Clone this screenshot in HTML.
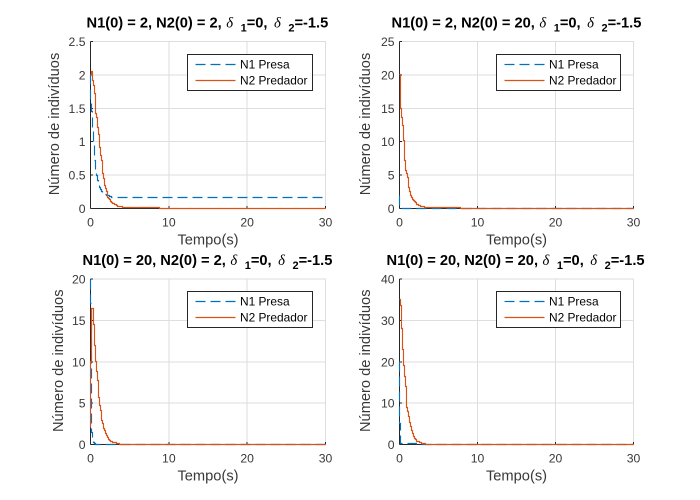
<!DOCTYPE html>
<html lang="pt">
<head>
<meta charset="utf-8">
<title>Presa e Predador</title>
<style>
html,body{margin:0;padding:0;background:#fff;width:700px;height:500px;overflow:hidden}
svg{display:block}
text{font-family:"Liberation Sans",sans-serif}
</style>
</head>
<body>
<svg id="figure" width="700" height="500" viewBox="0 0 700 500" xmlns="http://www.w3.org/2000/svg"></svg>
<script>
const xTicks = [0, 10, 20, 30];
const xMax = 30;

const panel1YTicks = [0, 0.5, 1, 1.5, 2, 2.5];
const panel1YLabels = ['0', '0.5', '1', '1.5', '2', '2.5'];
const panel1N1Time = [0, 0.04, 0.17, 0.3, 0.34, 0.5, 0.72, 1.15, 1.57, 2, 2.85, 30];
const panel1N1Values = [2, 1.62, 1.45, 1.22, 1, 0.72, 0.5, 0.31, 0.23, 0.2, 0.165, 0.165];
const panel1N2Time = [0, 0.1, 0.3, 0.5, 0.7, 0.94, 1.15, 1.36, 1.57, 1.8, 2, 2.2, 2.6, 3.06, 3.5, 4.4, 8.8, 8.8, 30];
const panel1N2Values = [2, 2.05, 1.92, 1.72, 1.42, 1.22, 0.92, 0.72, 0.52, 0.35, 0.25, 0.17, 0.1, 0.06, 0.035, 0.012, 0.01, 0, 0];

const panel2YTicks = [0, 5, 10, 15, 20, 25];
const panel2YLabels = ['0', '5', '10', '15', '20', '25'];
const panel2N1Time = [0, 0.02, 0.1, 0.3, 7.8, 30];
const panel2N1Values = [2, 0.5, 0.1, 0, 0, 0];
const panel2N2Time = [0, 0.08, 0.17, 0.34, 0.47, 0.64, 0.8, 1, 1.15, 1.4, 1.75, 2.2, 2.6, 3.25, 4.3, 7.8, 7.8, 30];
const panel2N2Values = [20, 18.2, 15, 12.4, 10.2, 7.2, 5.7, 4.7, 3.2, 2, 1.2, 0.65, 0.4, 0.2, 0.1, 0.1, 0, 0];

const panel3YTicks = [0, 5, 10, 15, 20];
const panel3YLabels = ['0', '5', '10', '15', '20'];
const panel3N1Time = [0, 0.05, 0.17, 0.18, 0.3, 0.4, 0.7, 3.7, 30];
const panel3N1Values = [20, 17, 9, 1.5, 0.7, 0.2, 0.03, 0, 0];
const panel3N2Time = [0, 0.05, 0.1, 0.3, 0.38, 0.5, 0.68, 0.85, 1.02, 1.23, 1.45, 1.7, 2, 2.4, 2.85, 3.7, 3.7, 30];
const panel3N2Values = [2, 10, 16.4, 16.4, 14.5, 12, 10, 7.7, 5.7, 4.1, 2.9, 1.9, 1.1, 0.5, 0.25, 0.08, 0, 0];

const panel4YTicks = [0, 10, 20, 30, 40];
const panel4YLabels = ['0', '10', '20', '30', '40'];
const panel4N1Time = [0, 0.02, 0.1, 3.4, 30];
const panel4N1Values = [20, 5, 0.3, 0, 0];
const panel4N2Time = [0, 0.08, 0.21, 0.38, 0.55, 0.73, 0.94, 1.15, 1.37, 1.8, 2.2, 3.1, 3.4, 3.4, 30];
const panel4N2Values = [35, 33.5, 28, 23, 19, 14, 9, 6.7, 4.3, 1.9, 0.8, 0.15, 0.1, 0, 0];

const legendLabels = ['N1 Presa', 'N2 Predador'];
const svgNS = 'http://www.w3.org/2000/svg';
const figure = document.getElementById('figure');

function make(parent, tag, attrs, text) {
  const el = document.createElementNS(svgNS, tag);
  for (const k in attrs) el.setAttribute(k, attrs[k]);
  if (text !== undefined) el.textContent = text;
  parent.appendChild(el);
  return el;
}

function named(el, name) {
  
  
  return el;
}

function drawTitle(group, x, y, n1, n2) {
  const title = make(group, 'text', {x: x, y: y, 'font-size': '14.67', 'font-weight': 'bold', fill: '#000'});
  named(title, 'chart-title');
  const chunk = (txt, attrs) => make(title, 'tspan', attrs, txt);
  const greek = {'font-family': '"Liberation Serif",serif', 'font-style': 'italic', 'font-weight': 'normal'};
  chunk('N1(0) = ' + n1 + ', N2(0) = ' + n2 + ',', {});
  chunk('δ', Object.assign({dx: '4.5'}, greek));
  chunk('1', {'font-size': '11', dx: '7.5', dy: '4'});
  chunk('=0,', {dy: '-4'});
  chunk('δ', Object.assign({dx: '6.5'}, greek));
  chunk('2', {'font-size': '11', dx: '7.5', dy: '4'});
  chunk('=-1.5', {dy: '-4'});
}

function stairPath(ts, vs, sx, sy) {
  const snap = p => Math.floor(p) + 0.5;
  let cx = snap(sx(ts[0]));
  let cy = snap(sy(vs[0]));
  let d = 'M' + cx + ' ' + cy;
  for (let i = 1; i < ts.length; i++) {
    const x0 = sx(ts[i - 1]), y0 = sy(vs[i - 1]);
    const x1 = sx(ts[i]), y1 = sy(vs[i]);
    const end = snap(x1);
    while (cx < end) {
      const nx = cx + 1;
      const f = x1 > x0 ? Math.min(1, Math.max(0, (nx - x0) / (x1 - x0))) : 1;
      const ny = snap(y0 + (y1 - y0) * f);
      d += 'H' + nx;
      if (ny !== cy) d += 'V' + ny;
      cx = nx;
      cy = ny;
    }
    const fy = snap(y1);
    if (fy !== cy) {
      d += 'V' + fy;
      cy = fy;
    }
  }
  return d;
}

function drawPanel(id, box, cfg) {
  const g = make(figure, 'g', {});
  named(g, 'subplot-' + id);
  const sx = t => box.left + (t / xMax) * (box.right - box.left);
  const yMax = cfg.yTicks[cfg.yTicks.length - 1];
  const sy = v => box.bottom - (v / yMax) * (box.bottom - box.top);

  const plotBg = make(g, 'rect', {x: box.left, y: box.top, width: box.right - box.left, height: box.bottom - box.top, fill: '#fff', stroke: '#dedede', 'stroke-width': 1, 'shape-rendering': 'crispEdges'});
  named(plotBg, 'plot-area');

  xTicks.forEach(t => {
    if (t === 0 || t === xMax) return;
    const line = make(g, 'line', {x1: sx(t), x2: sx(t), y1: box.top, y2: box.bottom, stroke: '#dedede', 'stroke-width': 1, 'shape-rendering': 'crispEdges'});
    named(line, 'x-gridline');
  });
  cfg.yTicks.forEach(v => {
    if (v === 0 || v === yMax) return;
    const line = make(g, 'line', {x1: box.left, x2: box.right, y1: sy(v), y2: sy(v), stroke: '#dedede', 'stroke-width': 1, 'shape-rendering': 'crispEdges'});
    named(line, 'y-gridline');
  });

  const xAxis = make(g, 'line', {x1: box.left, x2: box.right, y1: box.bottom, y2: box.bottom, stroke: '#262626', 'stroke-width': 1, 'shape-rendering': 'crispEdges'});
  named(xAxis, 'x-axis');
  const yAxis = make(g, 'line', {x1: box.left, x2: box.left, y1: box.top, y2: box.bottom, stroke: '#262626', 'stroke-width': 1, 'shape-rendering': 'crispEdges'});
  named(yAxis, 'y-axis');

  xTicks.forEach(t => {
    const tick = make(g, 'line', {x1: sx(t), x2: sx(t), y1: box.bottom, y2: box.bottom - 2.5, stroke: '#262626', 'stroke-width': 1, 'shape-rendering': 'crispEdges'});
    named(tick, 'x-tick');
    const label = make(g, 'text', {x: sx(t), y: box.bottom + 18, 'text-anchor': 'middle', 'font-size': '12.2', fill: '#383838'}, String(t));
    named(label, 'x-tick-label');
  });
  cfg.yTicks.forEach((v, i) => {
    const tick = make(g, 'line', {x1: box.left, x2: box.left + 2.5, y1: sy(v), y2: sy(v), stroke: '#262626', 'stroke-width': 1, 'shape-rendering': 'crispEdges'});
    named(tick, 'y-tick');
    const label = make(g, 'text', {x: box.left - 5, y: sy(v) + 4.5, 'text-anchor': 'end', 'font-size': '12.2', fill: '#383838'}, cfg.yLabels[i]);
    named(label, 'y-tick-label');
  });

  const n1 = make(g, 'path', {d: stairPath(cfg.n1Time, cfg.n1Values, sx, sy), fill: 'none', stroke: '#0072bd', 'stroke-width': 1.15, 'stroke-dasharray': '10 5'});
  named(n1, 'n1-presa-line');
  const n2 = make(g, 'path', {d: stairPath(cfg.n2Time, cfg.n2Values, sx, sy), fill: 'none', stroke: '#d95319', 'stroke-width': 1.15});
  named(n2, 'n2-predador-line');

  const xl = make(g, 'text', {x: (box.left + box.right) / 2, y: box.bottom + 36, 'text-anchor': 'middle', 'font-size': '14.67', fill: '#383838'}, 'Tempo(s)');
  named(xl, 'x-axis-title');
  const cy = (box.top + box.bottom) / 2 - 1;
  const yl = make(g, 'text', {x: cfg.yLabelX, y: cy, transform: 'rotate(-90 ' + cfg.yLabelX + ' ' + cy + ')', 'text-anchor': 'middle', 'font-size': '14.67', fill: '#383838'}, 'Número de indivíduos');
  named(yl, 'y-axis-title');

  drawTitle(g, cfg.titleX, cfg.titleY, cfg.n1Start, cfg.n2Start);

  const lg = make(g, 'g', {});
  named(lg, 'legend');
  const lx = Math.floor(box.left + 96.5) + 0.5, ly = Math.floor(box.top + 12.5) + 0.5;
  const lw = box.right - box.left - 110;
  const frame = make(lg, 'rect', {x: lx, y: ly, width: lw, height: 36, fill: '#fff', stroke: '#262626', 'stroke-width': 1, 'shape-rendering': 'crispEdges'});
  named(frame, 'legend-box');
  legendLabels.forEach((txt, i) => {
    const rowY = ly + 10 + i * 16;
    const sw = make(lg, 'line', {x1: lx + 8, x2: lx + 48, y1: rowY, y2: rowY, stroke: i === 0 ? '#0072bd' : '#d95319', 'stroke-width': 1.15});
    if (i === 0) sw.setAttribute('stroke-dasharray', '10 5');
    named(sw, 'legend-swatch');
    const label = make(lg, 'text', {x: lx + 52.5, y: rowY + 4.2, 'font-size': '11.9', fill: '#000'}, txt);
    named(label, 'legend-entry');
  });
}

drawPanel(1, {left: 90.5, right: 325.5, top: 41.5, bottom: 208.5}, {
  yTicks: panel1YTicks, yLabels: panel1YLabels,
  n1Time: panel1N1Time, n1Values: panel1N1Values, n2Time: panel1N2Time, n2Values: panel1N2Values,
  yLabelX: 59, titleX: 86.5, titleY: 27.5, n1Start: 2, n2Start: 2
});
drawPanel(2, {left: 399.5, right: 633.5, top: 41.5, bottom: 208.5}, {
  yTicks: panel2YTicks, yLabels: panel2YLabels,
  n1Time: panel2N1Time, n1Values: panel2N1Values, n2Time: panel2N2Time, n2Values: panel2N2Values,
  yLabelX: 370, titleX: 391.5, titleY: 27.5, n1Start: 2, n2Start: 20
});
drawPanel(3, {left: 90.5, right: 325.5, top: 279, bottom: 444.5}, {
  yTicks: panel3YTicks, yLabels: panel3YLabels,
  n1Time: panel3N1Time, n1Values: panel3N1Values, n2Time: panel3N2Time, n2Values: panel3N2Values,
  yLabelX: 63, titleX: 82.5, titleY: 265, n1Start: 20, n2Start: 2
});
drawPanel(4, {left: 399.5, right: 633.5, top: 279, bottom: 444.5}, {
  yTicks: panel4YTicks, yLabels: panel4YLabels,
  n1Time: panel4N1Time, n1Values: panel4N1Values, n2Time: panel4N2Time, n2Values: panel4N2Values,
  yLabelX: 370, titleX: 386.5, titleY: 265, n1Start: 20, n2Start: 20
});
</script>
</body>
</html>
